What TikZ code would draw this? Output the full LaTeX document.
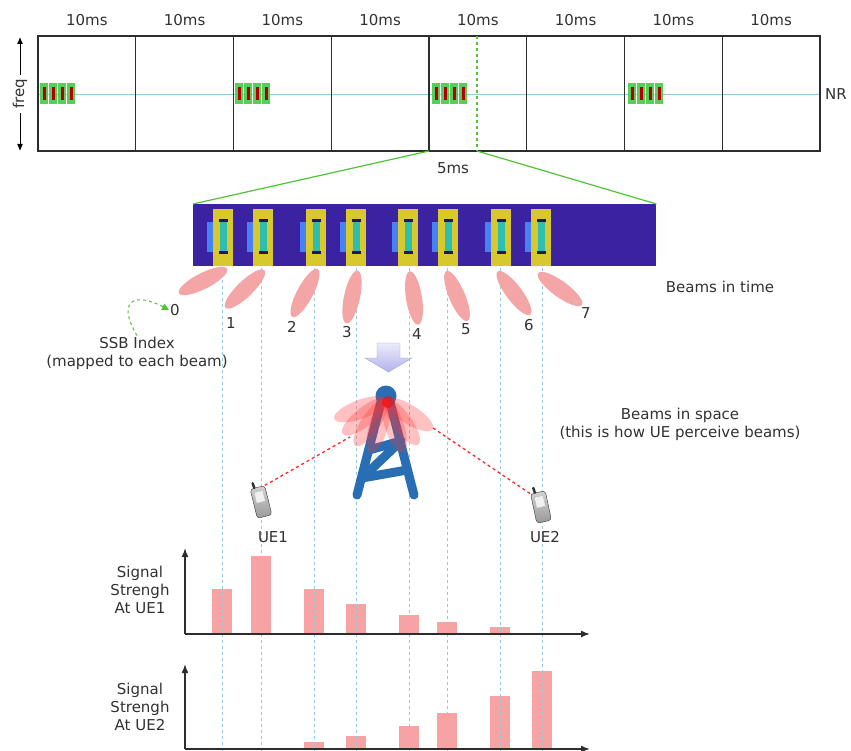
\documentclass[tikz,border=0pt]{standalone}
\usepackage{fontspec}
\setmainfont{DejaVu Sans}
\usetikzlibrary{arrows.meta,calc,positioning}

\definecolor{txtgray}{RGB}{50,50,50}
\definecolor{framegray}{RGB}{45,45,45}
\definecolor{gridblue}{RGB}{150,200,220}
\definecolor{zoomgreen}{RGB}{80,195,55}
\definecolor{ssbpurple}{RGB}{58,34,160}
\definecolor{ssbyellow}{RGB}{214,200,45}
\definecolor{ssbcyan}{RGB}{45,190,175}
\definecolor{ssbblue}{RGB}{70,130,245}
\definecolor{beampink}{RGB}{244,165,165}
\definecolor{barpink}{RGB}{247,163,163}
\definecolor{towerblue}{RGB}{40,110,180}
\definecolor{arrowlav}{RGB}{178,178,238}

\tikzset{
  lbl/.style={font=\fontsize{15}{18}\selectfont, text=txtgray, inner sep=1pt, align=center},
  frameline/.style={draw=framegray, line width=1.3pt},
  guide/.style={gridblue, dashed, line width=0.8pt},
  axis/.style={draw=framegray, line width=1.5pt, -{Latex[length=9pt,width=7pt]}},
  towerleg/.style={towerblue, line width=9pt, line cap=round, line join=round},
  phone/.style={rounded corners=3pt, draw=gray!40!black, top color=gray!35, bottom color=gray!80,
    minimum width=15pt, minimum height=30pt, inner sep=0pt},
  phonescreen/.style={fill=gray!12, draw=gray!55, minimum width=9pt, minimum height=11pt, inner sep=0pt}
}

\begin{document}
\begin{tikzpicture}[x=1pt,y=-1pt]
\useasboundingbox (0,0) rectangle (851,751);
\fill[white] (0,0) rectangle (851,751);

% radio frames, 8 x 10ms
\draw[gridblue] (38,94) -- (820,94);
\draw[frameline] (38,36) rectangle (820,151);
\foreach \i in {1,...,7} \draw[frameline] (38+97.75*\i,36) -- (38+97.75*\i,151);
\foreach \i in {0,...,7} \node[lbl] (ms\i) at (38+97.75*\i+48.9,20) {10ms};
\node[lbl] (nr) at (836,94) {NR};
\node[lbl,rotate=90,inner sep=4pt] (freq) at (20,94) {freq};
\draw[-{Latex[length=7pt,width=6pt]},line width=1pt] (freq.east) -- (20,37);
\draw[-{Latex[length=7pt,width=6pt]},line width=1pt] (freq.west) -- (20,151);

% SS bursts every 20ms
\foreach \c in {40,235,432,628}
  \foreach \k in {0,...,3} {
    \fill[green!70!black!65] (\c+9*\k,83) rectangle +(8,21);
    \fill[red!70!black] (\c+9*\k+2.5,87) rectangle +(3.5,13);
  }
\draw[zoomgreen,dashed,line width=1.4pt] (477,36) -- (477,151);
\node[lbl] (half) at (453,168) {5ms};
\coordinate (zl) at (429,151);
\coordinate (zr) at (477,151);

% zoomed burst
\node[fill=ssbpurple,minimum width=463pt,minimum height=62pt,inner sep=0pt,anchor=north west] (burst) at (193,204) {};
\draw[zoomgreen,line width=1.2pt] (zl) -- (burst.north west);
\draw[zoomgreen,line width=1.2pt] (zr) -- (burst.north east);
\foreach \x in {213,253,306,346,398,438,491,531} {
  \fill[ssbblue] (\x-6,222) rectangle (\x,252);
  \fill[ssbyellow] (\x,209) rectangle (\x+20,266);
  \fill[ssbcyan] (\x+7,220) rectangle (\x+14,253);
  \fill[ssbpurple!60!black] (\x+6,219) rectangle (\x+15,222);
  \fill[ssbpurple!60!black] (\x+6,251) rectangle (\x+15,254);
}

% signal strength bars
\foreach \x/\t in {222/589,261/556,314/589,356/604,409/615,447/622,500/627}
  \fill[barpink] (\x-10,\t) rectangle (\x+10,633);
\foreach \x/\t in {314/742,356/736,409/726,447/713,500/696,542/671}
  \fill[barpink] (\x-10,\t) rectangle (\x+10,748);

% beam guides
\foreach \x in {222,261,314,356,409,447,500,542} \draw[guide] (\x,268) -- (\x,751);

% beams in time
\foreach \cx/\cy/\a/\lx/\ly/\n in {203/281/27/175/310/0, 245/289/44/231/323/1,
    305/293/62/292/327/2, 352/297/78/347/332/3, 414/298/99/417/334/4,
    457/296/113/466/329/5, 514/293/127/529/325/6, 560/289/144/586/313/7} {
  \fill[beampink] (\cx,\cy) ellipse [x radius=27pt,y radius=8pt,rotate=\a];
  \node[lbl] (b\n) at (\lx,\ly) {\n};
}
\node[lbl] (bit) at (720,287) {Beams in time};
\node[lbl] (ssbidx) at (137,353) {SSB Index\\(mapped to each beam)};
\draw[zoomgreen,dashed,line width=1pt,-{Triangle[length=7pt,width=7pt]}]
  (ssbidx.north) .. controls (116,300) and (135,292) .. (b0.west);

% down arrow
\shadedraw[top color=arrowlav!25,bottom color=arrowlav,draw=arrowlav!70!gray]
  (377,343) -- (400,343) -- (400,358) -- (412,358) -- (388.5,372) -- (365,358) -- (377,358) -- cycle;

% tower
\fill[towerblue] (386,396) circle (10.5pt);
\draw[towerleg] (381,402) -- (357,495);
\draw[towerleg] (390,402) -- (414,495);
\draw[towerleg] (369,450) -- (401,441) -- (362,478) -- (407,470);
\foreach \a in {200,218,236,254,288,306,328}
  \fill[red!80,opacity=0.3] (386,400) ++({27*cos(\a)},{-27*sin(\a)}) ellipse [x radius=28pt,y radius=9.5pt,rotate=\a];
\fill[red,opacity=0.5] (388,402) circle (6pt);
\coordinate (tl) at (350,437);
\coordinate (tr) at (433,428);
\node[lbl] (bis) at (680,424) {Beams in space\\(this is how UE perceive beams)};

% user equipment
\node[phone,rotate=14] (ue1) at (261,502) {};
\node[phone,rotate=12] (ue2) at (541,507) {};
\foreach \u in {ue1,ue2} {
  \node[phonescreen,rotate=13] (\u s) at ($(\u.center)!0.35!(\u.north)$) {};
  \coordinate (\u a) at ($(\u.north west)!0.3!(\u.north east)$);
  \draw[gray!40!black,line width=2.5pt,line cap=round] (\u a) -- ($(\u a)!-5pt!(\u.south)$);
}
\node[lbl] (ue1l) at (273,537) {UE1};
\node[lbl] (ue2l) at (545,537) {UE2};
\draw[red!85,dashed,line width=1.3pt] (ue1.north east) -- (tl);
\draw[red!85,dashed,line width=1.3pt] (tr) -- (ue2.north west);

% charts
\coordinate (o1) at (185,634);
\draw[axis] (o1) -- (185,548);
\draw[axis] (o1) -- (590,634);
\node[lbl] (sig1) at (140,590) {Signal\\Strengh\\At UE1};
\coordinate (o2) at (185,749);
\draw[axis] (o2) -- (185,664);
\draw[axis] (o2) -- (590,749);
\node[lbl] (sig2) at (140,707) {Signal\\Strengh\\At UE2};
\end{tikzpicture}
\end{document}
